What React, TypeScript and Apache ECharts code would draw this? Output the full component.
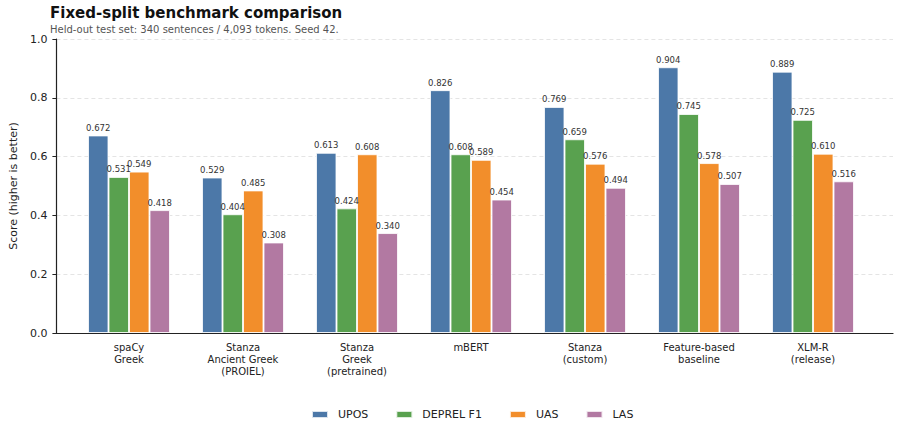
import React, { useEffect, useRef } from "react";
import * as echarts from "echarts";

const categories = [
  "spaCy\nGreek",
  "Stanza\nAncient Greek\n(PROIEL)",
  "Stanza\nGreek\n(pretrained)",
  "mBERT",
  "Stanza\n(custom)",
  "Feature-based\nbaseline",
  "XLM-R\n(release)",
];
const seriesNames = ["UPOS", "DEPREL F1", "UAS", "LAS"];
const upos = [0.672, 0.529, 0.613, 0.826, 0.769, 0.904, 0.889];
const deprel = [0.531, 0.404, 0.424, 0.608, 0.659, 0.745, 0.725];
const uas = [0.549, 0.485, 0.608, 0.589, 0.576, 0.578, 0.61];
const las = [0.418, 0.308, 0.34, 0.454, 0.494, 0.507, 0.516];
const colors = ["#4c78a8", "#59a14f", "#f28e2b", "#b279a2"];
const yTicks = [0, 0.2, 0.4, 0.6, 0.8, 1.0];

const FONT = "DejaVu Sans";

export default function App() {
  const ref = useRef<HTMLDivElement>(null);
  useEffect(() => {
    if (!ref.current) return;
    const chart = echarts.init(ref.current, null, { renderer: "svg" });
    const values = [upos, deprel, uas, las];
    const top = 39;
    const bottom = 92;
    chart.setOption({
      animation: false,
      textStyle: { fontFamily: FONT },
      title: [
        {
          text: "Fixed-split benchmark comparison",
          left: 45,
          top: 0,
          textStyle: { fontFamily: FONT, fontSize: 15, fontWeight: "bold", color: "#111" },
        },
        {
          text: "Held-out test set: 340 sentences / 4,093 tokens. Seed 42.",
          left: 45,
          top: 19,
          textStyle: { fontFamily: FONT, fontSize: 10, fontWeight: "normal", color: "#555" },
        },
      ],
      legend: {
        data: seriesNames,
        bottom: 0,
        left: 306,
        itemWidth: 16,
        itemHeight: 7,
        itemGap: 27,
        icon: "rect",
        textStyle: { fontFamily: FONT, fontSize: 11, color: "#222", padding: [0, 0, 0, 5] },
      },
      grid: [
        { left: 50, right: 7, top, bottom },
        { left: 72, right: 30, top, bottom },
      ],
      xAxis: [
        {
          type: "value",
          gridIndex: 0,
          min: 0,
          max: 1,
          axisLine: { show: true, lineStyle: { color: "#222", width: 1.2 } },
          axisTick: { show: false },
          axisLabel: { show: false },
          splitLine: { show: false },
        },
        {
          type: "category",
          gridIndex: 1,
          data: categories,
          axisLine: { show: false },
          axisTick: { show: false },
          axisLabel: {
            fontFamily: FONT,
            fontSize: 10,
            color: "#222",
            lineHeight: 12,
            margin: 8,
            interval: 0,
          },
        },
      ],
      yAxis: [
        {
          type: "value",
          gridIndex: 0,
          min: 0,
          max: 1,
          interval: 0.2,
          name: "Score (higher is better)",
          nameLocation: "middle",
          nameGap: 37,
          nameTextStyle: { fontFamily: FONT, fontSize: 11, color: "#222" },
          axisLine: { show: true, lineStyle: { color: "#222", width: 1.2 } },
          axisTick: { show: true, length: 4, lineStyle: { color: "#222" } },
          axisLabel: {
            fontFamily: FONT,
            fontSize: 11,
            color: "#222",
            margin: 9,
            formatter: (v: number) => (yTicks.includes(Math.round(v * 10) / 10) ? v.toFixed(1) : ""),
          },
          splitLine: { show: true, lineStyle: { color: "#dddddd", type: [4, 3], width: 0.8 } },
        },
        {
          type: "value",
          gridIndex: 1,
          min: 0,
          max: 1,
          show: false,
          splitLine: { show: false },
        },
      ],
      series: seriesNames.map((name, i) => ({
        name,
        type: "bar",
        xAxisIndex: 1,
        yAxisIndex: 1,
        data: values[i],
        barWidth: 20.5,
        barGap: "0%",
        itemStyle: { color: colors[i], borderColor: "rgba(255,255,255,0.8)", borderWidth: 1 },
        label: {
          show: true,
          position: "top",
          distance: 3,
          fontFamily: FONT,
          fontSize: 8.5,
          color: "#333",
          formatter: (p: any) => Number(p.value).toFixed(3),
        },
      })),
    });
    return () => chart.dispose();
  }, []);
  return (
    <div
      ref={ref}
      style={{ position: "fixed", left: 0, top: 0, width: 900, height: 425, background: "#fff" }}
    />
  );
}
